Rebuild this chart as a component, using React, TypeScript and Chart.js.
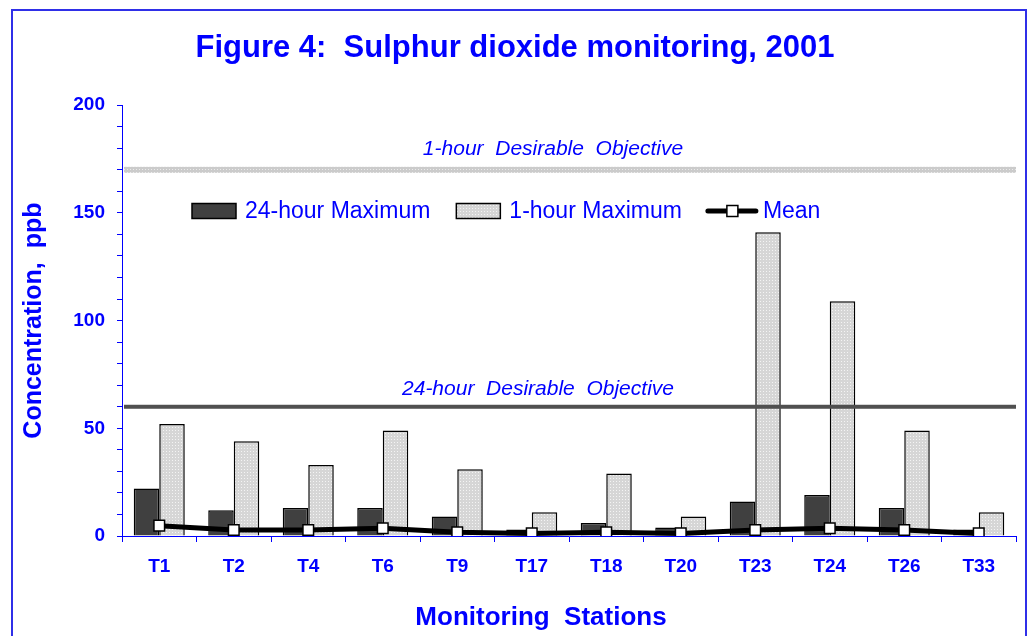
import React, { useEffect, useRef } from 'react';
import { Chart, registerables } from 'chart.js';

Chart.register(...registerables);

const stations = ['T1', 'T2', 'T4', 'T6', 'T9', 'T17', 'T18', 'T20', 'T23', 'T24', 'T26', 'T33'];
const max24h = [22, 12, 13, 13, 9, 3, 6, 4, 16, 19, 13, 3];
const max1h = [52, 44, 33, 49, 31, 11, 29, 9, 141, 109, 49, 11];
const meanValues = [4.8, 2.8, 2.8, 3.6, 1.7, 1.2, 1.7, 1.2, 2.8, 3.6, 2.8, 1.2];
const objective1h = 170;
const objective24h = 60;
const yLabelValues = [0, 50, 100, 150, 200];

const BLUE = '#0000ff';
const FONT = "'Liberation Sans', Arial, sans-serif";

function makeStipple(base: string, dot: string): CanvasPattern | string {
  const c = document.createElement('canvas');
  c.width = 3;
  c.height = 3;
  const x = c.getContext('2d');
  if (!x) return base;
  x.fillStyle = base;
  x.fillRect(0, 0, 3, 3);
  x.fillStyle = dot;
  x.fillRect(1, 1, 1, 1);
  return x.createPattern(c, 'repeat') || base;
}

export default function App() {
  const ref = useRef<HTMLCanvasElement | null>(null);

  useEffect(() => {
    if (!ref.current) return;
    const stipple = makeStipple('#d6d6d6', '#f4f4f4');
    const lineStipple = makeStipple('#cbcbcb', '#ebebeb');

    const objectivesPlugin = {
      id: 'objectives',
      afterDatasetsDraw(chart: any) {
        const { ctx, chartArea } = chart;
        const y = chart.scales.y;
        const left = chartArea.left + 2;
        const right = chartArea.right;
        ctx.save();
        const y1 = y.getPixelForValue(objective1h);
        ctx.fillStyle = lineStipple;
        ctx.fillRect(left, y1 - 3, right - left, 6);
        const y24 = y.getPixelForValue(objective24h);
        ctx.fillStyle = '#505050';
        ctx.fillRect(left, y24 - 2, right - left, 4);
        ctx.fillStyle = BLUE;
        ctx.font = `italic 21px ${FONT}`;
        ctx.textAlign = 'center';
        ctx.textBaseline = 'alphabetic';
        ctx.fillText('1-hour  Desirable  Objective', 553, y1 - 15);
        ctx.fillText('24-hour  Desirable  Objective', 538, y24 - 12);
        ctx.restore();
      },
    };

    const textPlugin = {
      id: 'customLegend',
      afterDraw(chart: any) {
        const { ctx } = chart;
        const ds = chart.data.datasets;
        const cy = 211;
        ctx.save();
        // x-axis title
        ctx.fillStyle = BLUE;
        ctx.font = `bold 26px ${FONT}`;
        ctx.textAlign = 'center';
        ctx.textBaseline = 'middle';
        ctx.fillText('Monitoring  Stations', 541, 618);

        // legend
        ctx.font = `23px ${FONT}`;
        ctx.textBaseline = 'middle';
        ctx.textAlign = 'left';
        let x = 192;
        for (let i = 0; i < 2; i++) {
          ctx.fillStyle = ds[i].backgroundColor;
          ctx.fillRect(x, cy - 7.5, 44, 15);
          ctx.strokeStyle = '#000';
          ctx.lineWidth = 1.5;
          ctx.strokeRect(x, cy - 7.5, 44, 15);
          x += 44 + 9;
          ctx.fillStyle = BLUE;
          ctx.fillText(ds[i].label, x, cy + 1);
          x += ctx.measureText(ds[i].label).width + 26;
        }
        ctx.strokeStyle = '#000';
        ctx.lineWidth = 5;
        ctx.lineCap = 'round';
        ctx.beginPath();
        ctx.moveTo(x, cy);
        ctx.lineTo(x + 48, cy);
        ctx.stroke();
        ctx.fillStyle = '#fff';
        ctx.fillRect(x + 19, cy - 5.5, 11, 11);
        ctx.lineWidth = 1.5;
        ctx.strokeRect(x + 19, cy - 5.5, 11, 11);
        x += 48 + 7;
        ctx.fillStyle = BLUE;
        ctx.fillText(ds[2].label, x, cy + 1);
        ctx.restore();
      },
    };

    const chart = new Chart(ref.current, {
      type: 'bar',
      data: {
        labels: stations,
        datasets: [
          {
            type: 'bar',
            label: '24-hour Maximum',
            data: max24h,
            backgroundColor: '#404040',
            borderColor: '#000000',
            borderWidth: 1.5,
            categoryPercentage: 0.685,
            barPercentage: 1,
            order: 2,
          },
          {
            type: 'bar',
            label: '1-hour Maximum',
            data: max1h,
            backgroundColor: stipple as any,
            borderColor: '#000000',
            borderWidth: 1.5,
            categoryPercentage: 0.685,
            barPercentage: 1,
            order: 2,
          },
          {
            type: 'line',
            label: 'Mean',
            data: meanValues,
            borderColor: '#000000',
            borderWidth: 5,
            tension: 0,
            pointStyle: 'rect',
            pointRadius: 7.5,
            pointBackgroundColor: '#ffffff',
            pointBorderColor: '#000000',
            pointBorderWidth: 1.5,
            order: 0,
          } as any,
        ],
      },
      options: {
        responsive: false,
        animation: false,
        devicePixelRatio: 1,
        layout: { padding: { top: 10, left: 14, right: 11, bottom: 0 } },
        plugins: {
          legend: { display: false },
          tooltip: { enabled: false },
          title: {
            display: true,
            text: 'Figure 4:  Sulphur dioxide monitoring, 2001',
            color: BLUE,
            font: { family: FONT, size: 31, weight: 'bold' },
            padding: { top: 20, bottom: 38 },
          },
        },
        scales: {
          x: {
            offset: true,
            grid: {
              display: true,
              drawOnChartArea: false,
              drawTicks: true,
              tickLength: 6,
              color: BLUE,
              offset: true,
            },
            border: { display: true, color: BLUE, width: 1 },
            ticks: {
              color: BLUE,
              font: { family: FONT, size: 19, weight: 'bold' },
              padding: 13,
              maxRotation: 0,
              autoSkip: false,
            },
            title: { display: false },
            afterFit: (s: any) => {
              s.height = 100;
            },
          },
          y: {
            min: 0,
            max: 200,
            grid: {
              display: true,
              drawOnChartArea: false,
              drawTicks: true,
              tickLength: 5,
              color: BLUE,
            },
            border: { display: true, color: BLUE, width: 1 },
            ticks: {
              stepSize: 10,
              autoSkip: false,
              color: BLUE,
              font: { family: FONT, size: 19, weight: 'bold' },
              padding: 12,
              callback: (v: any) => (yLabelValues.includes(Number(v)) ? String(v) : ''),
            },
            title: {
              display: true,
              text: 'Concentration,  ppb',
              color: BLUE,
              font: { family: FONT, size: 25, weight: 'bold' },
              padding: { top: 5, bottom: 0 },
            },
            afterFit: (s: any) => {
              s.width = 108;
            },
          },
        },
      } as any,
      plugins: [objectivesPlugin, textPlugin],
    });
    return () => chart.destroy();
  }, []);

  return (
    <div style={{ position: 'fixed', left: 0, top: 0, width: 1027, height: 636, background: '#ffffff', overflow: 'hidden' }}>
      <canvas ref={ref} width={1027} height={636} style={{ position: 'absolute', left: 0, top: 0, width: 1027, height: 636 }} />
      <div
        style={{
          position: 'absolute',
          left: 11,
          top: 9,
          width: 1012,
          height: 700,
          border: '2px solid #2f2fe8',
          pointerEvents: 'none',
        }}
      />
    </div>
  );
}
